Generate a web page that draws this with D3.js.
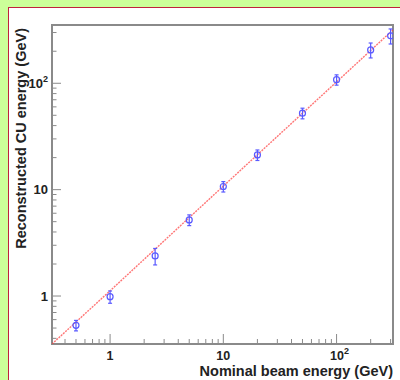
<!DOCTYPE html>
<html>
<head>
<meta charset="utf-8">
<script src="https://cdn.jsdelivr.net/npm/d3@7"></script>
<style>
  html, body { margin: 0; padding: 0; background: #ccff99; }
  svg { display: block; font-family: "Liberation Sans", Arial, sans-serif; }
</style>
</head>
<body>
<svg id="chart" width="400" height="380"></svg>
<script>
// beam energies (GeV) and reconstructed energy with errors
const beamEnergy = [0.5, 1, 2.5, 5, 10, 20, 50, 100, 200, 300];
const recoEnergy = [0.53, 0.985, 2.38, 5.19, 10.7, 21.2, 52.3, 108, 206, 279];
const recoError = [0.06, 0.13, 0.42, 0.6, 1.2, 2.4, 6, 12, 33, 45];

// fitted line
const fitX = [0.307, 1, 10, 100, 315];
const fitY = [0.354, 1.12, 10.8, 103, 318];

const xMajor = [1, 10, 100];
const yMajor = [1, 10, 100];

const xLabel = 'Nominal beam energy (GeV)';
const yLabel = 'Reconstructed CU energy (GeV)';

const svg = d3.select('#chart');
const frame = {left: 52, top: 25, right: 393, bottom: 344};

// white pad with red edge
svg.append('rect')
  .attr('x', 8.5).attr('y', 7.5)
  .attr('width', 400).attr('height', 380)
  .attr('fill', '#ffffff')
  .attr('stroke', '#c0223c')
  .attr('stroke-width', 1);

const x = d3.scaleLog().domain([0.307, 315]).range([frame.left, frame.right]);
const y = d3.scaleLog().domain([0.354, 353]).range([frame.bottom, frame.top]);

const axisColor = '#8a8a8a';

// minor + major ticks
function logTicks(domain) {
  const out = [];
  for (let e = -1; e <= 3; e++) {
    for (let m = 1; m <= 9; m++) {
      const v = m * Math.pow(10, e);
      if (v >= domain[0] && v <= domain[1]) out.push({v: v, major: m === 1});
    }
  }
  return out;
}

const ticks = svg.append('g');
ticks.selectAll('.xt')
  .data(logTicks(x.domain()))
  .enter()
  .append('line')
  .attr('x1', d => x(d.v)).attr('x2', d => x(d.v))
  .attr('y1', frame.bottom)
  .attr('y2', d => frame.bottom - (d.major ? 10 : 5))
  .attr('stroke', axisColor)
  .attr('stroke-width', 1);

ticks.selectAll('.yt')
  .data(logTicks(y.domain()))
  .enter()
  .append('line')
  .attr('y1', d => y(d.v)).attr('y2', d => y(d.v))
  .attr('x1', frame.left)
  .attr('x2', d => frame.left + (d.major ? 9 : 4.5))
  .attr('stroke', axisColor)
  .attr('stroke-width', 1);

// frame
svg.append('rect')
  .attr('x', frame.left).attr('y', frame.top)
  .attr('width', frame.right - frame.left)
  .attr('height', frame.bottom - frame.top)
  .attr('fill', 'none')
  .attr('stroke', axisColor)
  .attr('stroke-width', 2);

// tick labels
function labelText(sel, v) {
  if (v >= 100) {
    sel.append('tspan').text('10');
    sel.append('tspan').attr('dy', -6).style('font-size', '9px').text(Math.round(Math.log10(v)));
  } else {
    sel.text(v);
  }
}

xMajor.forEach(v => {
  const t = svg.append('text')
    .attr('x', x(v) + (v >= 100 ? 3 : 0))
    .attr('y', 360)
    .attr('text-anchor', 'middle')
    .style('font-size', '12.5px')
    .style('font-weight', 'bold')
    .attr('fill', '#222');
  labelText(t, v);
});

yMajor.forEach(v => {
  const t = svg.append('text')
    .attr('x', 48)
    .attr('y', y(v) + (v >= 100 ? 5 : 4.5))
    .attr('text-anchor', 'end')
    .style('font-size', '13px')
    .style('font-weight', 'bold')
    .attr('fill', '#222');
  labelText(t, v);
});

// axis titles
svg.append('text')
  .attr('x', frame.right)
  .attr('y', 376)
  .attr('text-anchor', 'end')
  .style('font-size', '14.5px')
  .style('font-weight', 'bold')
  .attr('fill', '#222')
  .text(xLabel);

svg.append('text')
  .attr('transform', 'translate(26,' + (frame.top + 3) + ') rotate(-90)')
  .attr('text-anchor', 'end')
  .style('font-size', '14.5px')
  .style('font-weight', 'bold')
  .attr('fill', '#222')
  .text(yLabel);

// clip to frame
svg.append('clipPath').attr('id', 'clip')
  .append('rect')
  .attr('x', frame.left).attr('y', frame.top)
  .attr('width', frame.right - frame.left)
  .attr('height', frame.bottom - frame.top);

const plot = svg.append('g').attr('clip-path', 'url(#clip)');

// fit line
const fitLine = d3.line().x(d => x(d[0])).y(d => y(d[1]));
plot.append('path')
  .datum(d3.zip(fitX, fitY))
  .attr('d', fitLine)
  .attr('fill', 'none')
  .attr('stroke', '#ff3a3a')
  .attr('stroke-opacity', 0.7)
  .attr('stroke-width', 1.4)
  .attr('stroke-dasharray', '2,1');

// data points with error bars
const pts = d3.zip(beamEnergy, recoEnergy, recoError);
const blue = '#5a5aff';

const g = plot.selectAll('.pt')
  .data(pts)
  .enter()
  .append('g');

g.append('line')
  .attr('x1', d => x(d[0])).attr('x2', d => x(d[0]))
  .attr('y1', d => y(d[1] - d[2])).attr('y2', d => y(d[1] + d[2]))
  .attr('stroke', blue).attr('stroke-width', 1.2);

[1, -1].forEach(s => {
  g.append('line')
    .attr('x1', d => x(d[0]) - 2).attr('x2', d => x(d[0]) + 2)
    .attr('y1', d => y(d[1] + s * d[2])).attr('y2', d => y(d[1] + s * d[2]))
    .attr('stroke', blue).attr('stroke-width', 1.2);
});

g.append('circle')
  .attr('cx', d => x(d[0]))
  .attr('cy', d => y(d[1]))
  .attr('r', 3)
  .attr('fill', 'none')
  .attr('stroke', blue)
  .attr('stroke-width', 1.2);
</script>
</body>
</html>
